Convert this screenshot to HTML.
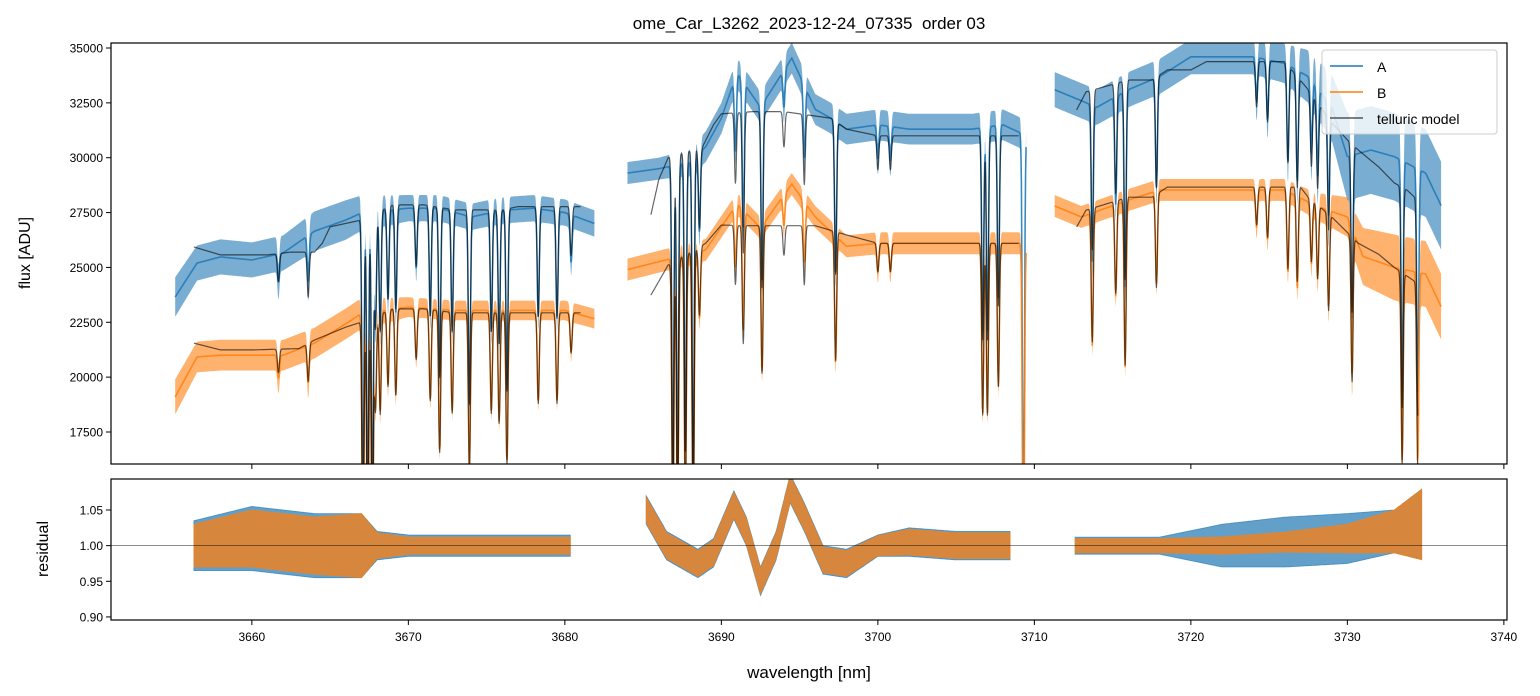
<!DOCTYPE html>
<html><head><meta charset="utf-8"><style>
body{margin:0;background:#fff;}
svg{display:block;font-family:"Liberation Sans","DejaVu Sans",sans-serif;}
</style></head><body>
<svg id="c" width="1540" height="696" viewBox="0 0 1540 696">
<defs>
<clipPath id="clipTop"><rect x="111" y="43" width="1396" height="421"/></clipPath>
<clipPath id="clipBot"><rect x="111" y="479" width="1396" height="141"/></clipPath>
</defs>
<rect width="1540" height="696" fill="#fff"/>
<text x="809" y="29" font-size="17" text-anchor="middle" style="white-space:pre">ome_Car_L3262_2023-12-24_07335  order 03</text>
<g id="topG" clip-path="url(#clipTop)"></g>
<g id="botG" clip-path="url(#clipBot)"></g>
<g id="axesG"></g>
<text transform="translate(30,253) rotate(-90)" font-size="16" text-anchor="middle">flux [ADU]</text>
<text transform="translate(48,549) rotate(-90)" font-size="16" text-anchor="middle">residual</text>
<text x="809" y="678" font-size="17" text-anchor="middle">wavelength [nm]</text>
<g>
<rect x="1322" y="50" width="175" height="84" rx="3" fill="#fff" fill-opacity="0.8" stroke="#ccc"/>
<line x1="1330" y1="66" x2="1363" y2="66" stroke="#1f77b4" stroke-width="1.6"/>
<text x="1377" y="72" font-size="14">A</text>
<line x1="1330" y1="92" x2="1363" y2="92" stroke="#ff7f0e" stroke-width="1.6"/>
<text x="1377" y="98" font-size="14">B</text>
<line x1="1330" y1="118" x2="1363" y2="118" stroke="#555" stroke-width="1.6"/>
<text x="1377" y="124" font-size="14">telluric model</text>
</g>
</svg>
<script>
const xTicks=[3660,3670,3680,3690,3700,3710,3720,3730,3740];
const yTicksTop=[17500,20000,22500,25000,27500,30000,32500,35000];
const yTicksBot=[0.90,0.95,1.00,1.05];
const obsSegs=[[3655.1,3681.9],[3684,3709.5],[3711.3,3736]];
const modelSegs=[[3656.3,3681],[3685.5,3709],[3712.7,3734.5]];
const resSegs=[[3656.3,3680.4],[3685.2,3708.5],[3712.6,3734.8]];
const aContX=[3655.1,3656.5,3658,3660,3662,3664,3666,3667,3670,3672,3674,3676,3678,3680,3681.9,3684,3686,3688,3689,3690,3691,3692.5,3694.5,3696,3697,3698,3700,3702,3704,3706,3708,3709.5,3711.3,3714,3716,3718,3720,3724,3726,3727.5,3729,3730,3731.5,3733,3735,3736];
const aContY=[23650,25200,25480,25340,25660,26650,27160,27480,27700,27700,27300,27600,27700,27500,27000,29300,29500,29800,30500,31800,33860,32300,34540,32200,31800,31300,31500,31300,31300,31300,31500,31000,33100,32300,33100,33700,34600,34600,34300,33700,32300,30050,30350,30050,29300,27800];
const aNoise=[900,800,800,800,800,900,900,800,600,600,600,600,600,600,600,500,500,600,700,700,700,700,700,700,700,700,700,700,700,700,700,700,800,800,800,800,800,800,900,1200,1500,2000,2000,2000,2000,2000];
const bContX=[3655.1,3656.5,3658,3662,3664,3666,3667,3670,3673,3680,3681.9,3684,3689,3691,3692.5,3694.5,3696,3698,3700,3708,3709.5,3711.3,3713,3716,3718,3726,3728,3730,3731,3733,3735,3736];
const bContY=[19100,20920,21000,21000,21550,22430,22900,23190,23040,23040,22660,24900,25800,27900,26800,28800,27300,25960,26100,26100,26100,27800,27300,28070,28530,28530,27800,27300,25500,25000,24700,23200];
const bNoise=[800,700,700,700,700,700,700,450,450,450,450,500,500,500,500,500,500,500,500,500,500,500,500,500,500,500,600,900,1300,1500,1500,1500];
const mAX=[3656.3,3658,3661,3662.5,3664,3664.5,3665,3667,3669,3671,3673,3676,3677,3680,3681,3685.5,3686,3686.6,3688.8,3689.5,3690,3692,3694,3696,3697,3698,3700,3708,3709,3712.7,3713.3,3716,3717.5,3718.5,3720,3721,3726,3727.5,3729,3730,3730.7,3732,3733,3733.8,3734.5];
const mAY=[25930,25570,25570,25700,25700,26100,26850,27160,27850,27850,27620,27620,27770,27770,27770,27400,29000,30000,30500,31500,32000,32100,32100,31900,31800,31300,31000,31000,31000,32180,33000,33540,33540,34000,34000,34380,34380,33100,31600,30810,30350,29580,28850,28530,28070];
const mBX=[3656.3,3658,3660,3663,3664,3666,3667,3669,3671,3673,3680,3681,3685.5,3686.6,3689,3690,3692,3696,3698,3700,3709,3712.7,3713.3,3716,3717.5,3718.5,3727,3727.5,3729,3730.7,3732,3733,3734.5];
const mBY=[21550,21240,21240,21300,21690,22280,22510,23110,23110,22930,22930,22930,23740,25110,26100,26930,26900,26900,26480,26100,26100,26840,27610,28200,28200,28660,28660,28200,27300,26100,25600,25000,24270];
const lineC=[3661.7,3663.6,3667.1,3667.4,3667.7,3667.9,3668.2,3668.7,3669.2,3670.5,3671.4,3672.0,3672.8,3673.9,3675.3,3675.8,3676.3,3678.3,3679.5,3680.4,3686.9,3687.2,3687.7,3688.2,3688.6,3690.9,3691.4,3692.6,3694.0,3695.3,3697.3,3700.0,3700.8,3706.7,3707.0,3707.7,3709.3,3713.7,3715.2,3715.8,3717.8,3724.2,3724.9,3726.2,3726.8,3727.7,3728.1,3728.8,3730.3,3733.5,3734.5];
const lineD=[0.05,0.08,0.5,0.5,0.5,0.19,0.2,0.15,0.17,0.1,0.18,0.28,0.2,0.32,0.2,0.22,0.3,0.18,0.18,0.08,0.5,0.5,0.45,0.5,0.12,0.1,0.2,0.25,0.05,0.1,0.22,0.05,0.05,0.3,0.3,0.25,0.6,0.22,0.15,0.27,0.15,0.06,0.08,0.13,0.15,0.1,0.12,0.16,0.25,0.35,0.35];
const resX=[3656.3,3660,3664,3667,3668,3670,3675,3680.4,3685.2,3686.5,3688.5,3689.5,3690.8,3691.6,3692.5,3693.5,3694.4,3695.3,3696.5,3698,3700,3702,3705,3708.5,3712.6,3718,3722,3726,3730,3733,3734.8];
const resAY=[1.0,1.01,1.0,1.0,1.0,1.0,1.0,1.0,1.05,1.0,0.975,0.99,1.057,1.02,0.95,1.0,1.08,1.04,0.98,0.975,1.0,1.005,1.0,1.0,1.0,1.0,1.0,1.005,1.01,1.02,1.03];
const resAW=[0.035,0.045,0.045,0.045,0.02,0.015,0.015,0.015,0.02,0.02,0.02,0.02,0.02,0.02,0.02,0.02,0.02,0.02,0.02,0.02,0.015,0.02,0.02,0.02,0.012,0.012,0.03,0.035,0.035,0.03,0.05];
const resBY=[1.0,1.01,1.0,1.0,1.0,1.0,1.0,1.0,1.05,1.0,0.975,0.99,1.057,1.02,0.95,1.0,1.08,1.04,0.98,0.975,1.0,1.005,1.0,1.0,1.0,1.0,1.0,1.005,1.01,1.02,1.03];
const resBW=[0.03,0.04,0.04,0.045,0.018,0.012,0.012,0.012,0.018,0.018,0.018,0.018,0.018,0.018,0.018,0.018,0.018,0.018,0.018,0.018,0.014,0.018,0.018,0.018,0.01,0.01,0.012,0.014,0.02,0.03,0.05];

const NS="http://www.w3.org/2000/svg";
const L=111,R=1507,T1=43,B1=464,T2=479,B2=620;
const XMIN=3651.0,XMAX=3740.2,Y1MIN=16041,Y1MAX=35228,Y2MIN=0.8957,Y2MAX=1.0935;
const sx=v=>L+(v-XMIN)/(XMAX-XMIN)*(R-L);
const sy1=v=>B1-(v-Y1MIN)/(Y1MAX-Y1MIN)*(B1-T1);
const sy2=v=>B2-(v-Y2MIN)/(Y2MAX-Y2MIN)*(B2-T2);
function interp(xs,ys,x){if(x<=xs[0])return ys[0];for(let i=1;i<xs.length;i++){if(x<=xs[i]){const t=(x-xs[i-1])/(xs[i]-xs[i-1]);return ys[i-1]+t*(ys[i]-ys[i-1]);}}return ys[ys.length-1];}
function absorb(x){let f=1;for(let i=0;i<lineC.length;i++){const d=(x-lineC[i])/0.09;if(Math.abs(d)<5)f*=1-Math.min(0.95,lineD[i])*Math.exp(-d*d);}return f;}
function mk(tag,attrs,parent){const e=document.createElementNS(NS,tag);for(const k in attrs)e.setAttribute(k,attrs[k]);parent.appendChild(e);return e;}
const topG=document.getElementById('topG'),botG=document.getElementById('botG'),axesG=document.getElementById('axesG');
function obsBand(xs,ys,ns,color,name){
  let d='',dl='';
  for(const s of obsSegs){const up=[],lo=[],ln=[];for(let x=s[0];x<=s[1];x+=0.03){const f=absorb(x),y=interp(xs,ys,x)*f,n=interp(xs,ns,x);const px=sx(x).toFixed(1);up.push(px+','+sy1(y+n).toFixed(1));lo.unshift(px+','+sy1(y-n).toFixed(1));ln.push(px+','+sy1(y).toFixed(1));}
    d+='M'+up.join('L')+'L'+lo.join('L')+'Z';dl+='M'+ln.join('L');}
  const p=mk('path',{d:d,fill:color,'fill-opacity':0.6,stroke:'none'},topG);
  
  
  const q=mk('path',{d:dl,fill:'none',stroke:color,'stroke-width':1.6,'stroke-opacity':0.85},topG);
  
  
}
function modelLine(xs,ys,name){
  let d='';
  for(const s of modelSegs){let first=true;for(let x=s[0];x<=s[1];x+=0.02){const y=interp(xs,ys,x)*absorb(x);d+=(first?'M':'L')+sx(x).toFixed(1)+','+sy1(y).toFixed(1);first=false;}}
  const p=mk('path',{d:d,fill:'none',stroke:'#000','stroke-width':1.2,'stroke-opacity':0.6,'stroke-linejoin':'round'},topG);
  
  
}
obsBand(aContX,aContY,aNoise,'#1f77b4','series-a');
obsBand(bContX,bContY,bNoise,'#ff7f0e','series-b');
modelLine(mAX,mAY,'telluric-model-a');
modelLine(mBX,mBY,'telluric-model-b');
function band(ys,ws,color,op,name){
  let d='';
  for(const s of resSegs){const up=[],lo=[];for(let x=s[0];x<=s[1];x+=0.05){const c=interp(resX,ys,x),w=interp(resX,ws,x);up.push(sx(x).toFixed(1)+','+sy2(c+w).toFixed(1));lo.unshift(sx(x).toFixed(1)+','+sy2(c-w).toFixed(1));}d+='M'+up.join('L')+'L'+lo.join('L')+'Z';}
  const p=mk('path',{d:d,fill:color,'fill-opacity':op,stroke:color,'stroke-width':0.8,'stroke-opacity':op},botG);
  
  
}
band(resAY,resAW,'#1f77b4',0.7,'residual-a');
band(resBY,resBW,'#ff7f0e',0.75,'residual-b');
const ref=mk('line',{x1:L,x2:R,y1:sy2(1),y2:sy2(1),stroke:'#000','stroke-width':0.8,'stroke-opacity':0.6},botG);


for(const [t,b,nm] of [[T1,B1,'top-axes-frame'],[T2,B2,'residual-axes-frame']]){
  const r=mk('rect',{x:L,y:t,width:R-L,height:b-t,fill:'none',stroke:'#000','stroke-width':1.2},axesG);
  
  
}
for(const v of xTicks){const x=sx(v);
  mk('line',{x1:x,x2:x,y1:B1,y2:B1+5,stroke:'#000'},axesG);
  mk('line',{x1:x,x2:x,y1:B2,y2:B2+5,stroke:'#000'},axesG);
  const t=mk('text',{x:x,y:B2+21,'font-size':12,'text-anchor':'middle'},axesG);t.textContent=v;
  
  }
for(const v of yTicksTop){const y=sy1(v);
  mk('line',{x1:L-5,x2:L,y1:y,y2:y,stroke:'#000'},axesG);
  const t=mk('text',{x:L-8,y:y+4.5,'font-size':12,'text-anchor':'end'},axesG);t.textContent=v;
  
  }
for(const v of yTicksBot){const y=sy2(v);
  mk('line',{x1:L-5,x2:L,y1:y,y2:y,stroke:'#000'},axesG);
  const t=mk('text',{x:L-8,y:y+4.5,'font-size':12,'text-anchor':'end'},axesG);t.textContent=v.toFixed(2);
  
  }
</script>
</body></html>
